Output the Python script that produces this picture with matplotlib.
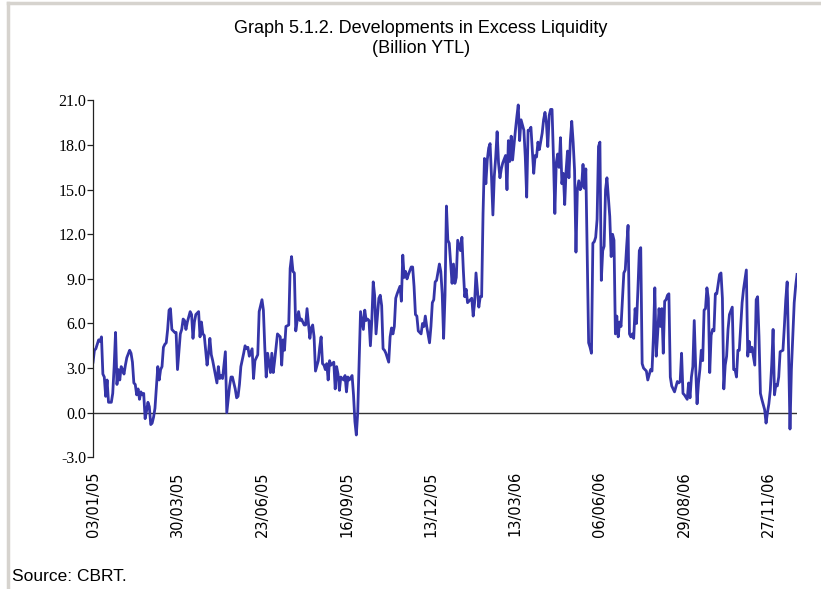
import matplotlib
matplotlib.use("Agg")
import matplotlib.pyplot as plt
from matplotlib.lines import Line2D

# trading-day number since 03/01/05 and excess liquidity (billion YTL)
obs = [
    0, 1, 2, 4, 5, 6, 7, 8, 9, 10, 11, 13, 14, 15, 16, 17, 18, 19, 20, 21,
    22, 23, 24, 26, 27, 28, 29, 30, 31, 32, 33, 34, 35, 36, 37, 38, 39, 40, 41, 42,
    43, 44, 46, 47, 48, 49, 50, 51, 52, 53, 54, 55, 56, 58, 59, 60, 62, 63, 64, 65,
    66, 67, 69, 70, 71, 72, 73, 75, 76, 77, 78, 79, 81, 82, 83, 84, 85, 86, 88, 89,
    90, 91, 92, 94, 95, 96, 97, 98, 99, 101, 102, 103, 104, 105, 107, 108, 109, 110, 111, 113,
    114, 115, 116, 117, 118, 120, 121, 122, 123, 124, 126, 127, 128, 129, 130, 131, 133, 134, 135, 136,
    137, 139, 140, 141, 142, 143, 144, 145, 146, 147, 148, 150, 151, 152, 154, 155, 156, 157, 158, 160,
    161, 162, 163, 164, 165, 166, 167, 168, 169, 171, 172, 173, 174, 175, 176, 178, 179, 180, 181, 182,
    184, 185, 186, 187, 188, 190, 191, 192, 193, 194, 195, 196, 197, 198, 199, 200, 201, 203, 204, 205,
    206, 207, 208, 210, 211, 212, 213, 214, 215, 216, 218, 219, 220, 221, 222, 223, 224, 226, 227, 228,
    229, 230, 231, 233, 234, 235, 236, 237, 239, 240, 241, 242, 243, 244, 246, 247, 248, 249, 250, 251,
    252, 253, 255, 256, 257, 258, 259, 261, 262, 263, 264, 265, 266, 268, 269, 270, 271, 272, 274, 275,
    276, 277, 278, 279, 280, 281, 282, 283, 284, 285, 286, 287, 288, 289, 290, 291, 293, 294, 295, 296,
    297, 298, 300, 301, 302, 303, 304, 306, 307, 308, 309, 310, 311, 313, 314, 315, 316, 317, 319, 320,
    321, 322, 323, 324, 325, 326, 327, 328, 329, 330, 331, 332, 333, 334, 335, 336, 337, 338, 339, 340,
    341, 342, 343, 344, 345, 346, 347, 348, 349, 350, 351, 352, 353, 354, 355, 356, 357, 358, 359, 360,
    361, 362, 363, 364, 365, 367, 368, 369, 370, 371, 372, 373, 374, 375, 377, 378, 379, 380, 381, 382,
    383, 384, 385, 386, 387, 388, 389, 390, 391, 392, 393, 394, 396, 397, 398, 399, 400, 401, 402, 403,
    404, 405, 406, 407, 408, 409, 410, 411, 412, 413, 415, 416, 417, 418, 419, 420, 422, 423, 424, 425,
    426, 427, 428, 429, 430, 431, 432, 433, 434, 435, 436, 437, 438, 439, 440, 441, 442, 443, 445, 446,
    447, 448, 449, 450, 451, 452, 454, 455, 456, 457, 458, 459, 460, 461, 462, 464, 465, 466, 467, 468,
    470, 471, 472, 473, 474, 475, 477, 478, 479, 480, 481, 482, 483, 484, 485, 486, 487, 488, 490, 491,
    492, 493, 494, 495, 496, 497, 498, 499, 500,
]
liquidity = [
    3.4, 4.2, 4.3, 4.9, 4.8, 5.1, 2.6, 2.4, 1.1, 2.2, 0.7, 0.7, 1.3, 3.1, 5.4, 1.9, 2.9, 2.2, 3.1, 2.9,
    2.6, 3.2, 3.7, 4.2, 4.0, 3.4, 2.0, 1.9, 1.2, 1.6, 0.9, 1.4, 1.2, 1.3, -0.4, 0.1, 0.7, 0.4, -0.8, -0.7,
    -0.3, 0.3, 3.1, 2.2, 2.9, 3.1, 4.4, 4.6, 4.7, 5.6, 6.9, 7.0, 5.6, 5.4, 5.4, 2.9, 5.3, 5.6, 6.3, 6.2,
    5.6, 6.1, 6.8, 6.6, 5.0, 6.1, 6.6, 6.8, 5.1, 6.1, 5.3, 5.2, 3.2, 4.0, 5.0, 3.9, 3.5, 3.0, 2.0, 3.1,
    2.3, 2.5, 2.3, 4.1, 0.0, 0.9, 1.8, 2.4, 2.4, 1.6, 1.0, 1.1, 1.9, 3.1, 4.0, 4.5, 4.3, 4.4, 3.8, 4.3,
    2.3, 3.5, 3.7, 3.9, 6.8, 7.6, 6.9, 4.4, 2.4, 4.0, 2.7, 4.0, 2.7, 3.5, 4.4, 5.3, 5.1, 3.2, 4.9, 4.2,
    5.8, 5.9, 9.7, 10.5, 9.5, 9.4, 5.5, 6.2, 6.8, 6.2, 6.3, 5.9, 5.9, 7.0, 5.0, 5.7, 5.9, 5.1, 2.8, 3.5,
    4.4, 5.1, 3.3, 3.2, 2.9, 3.3, 2.2, 3.5, 3.2, 3.4, 1.6, 3.1, 2.6, 1.5, 2.4, 2.2, 2.5, 1.4, 2.4, 2.2,
    2.5, 1.2, -0.6, -1.5, 0.0, 6.8, 6.2, 5.6, 6.9, 6.2, 6.3, 6.2, 4.5, 6.2, 8.8, 7.9, 5.3, 7.7, 7.9, 7.2,
    4.3, 4.2, 4.0, 3.4, 5.1, 5.7, 5.3, 5.8, 7.7, 8.0, 8.5, 7.5, 10.6, 9.1, 9.5, 9.0, 9.3, 9.8, 9.8, 8.5,
    6.6, 6.5, 5.5, 5.3, 6.0, 5.8, 6.5, 5.8, 4.7, 5.8, 7.4, 7.6, 8.8, 8.9, 10.0, 9.5, 8.0, 5.0, 7.9, 13.9,
    11.6, 11.4, 8.7, 10.0, 8.7, 9.1, 11.6, 10.9, 11.8, 9.6, 7.8, 8.3, 7.4, 7.6, 7.7, 6.5, 7.4, 9.4, 7.1, 7.8,
    7.8, 13.4, 17.1, 15.4, 17.0, 17.8, 18.1, 15.9, 13.3, 15.9, 17.2, 18.9, 16.8, 15.8, 16.4, 16.8, 17.3, 15.0, 18.3, 16.9,
    18.6, 17.0, 19.0, 19.9, 20.7, 18.3, 19.7, 19.0, 17.2, 14.5, 19.0, 19.0, 19.2, 16.1, 17.3, 17.2, 18.2, 17.7, 18.8, 19.7,
    20.2, 19.5, 17.9, 20.0, 20.4, 20.4, 17.2, 13.4, 16.8, 17.4, 16.5, 18.5, 15.4, 16.1, 14.0, 16.3, 17.6, 15.8, 18.3, 19.6,
    18.2, 16.3, 10.8, 15.0, 15.6, 15.0, 15.2, 16.7, 15.1, 16.4, 10.5, 4.7, 4.4, 4.0, 11.4, 11.5, 11.8, 13.0, 17.9, 18.2,
    8.9, 10.9, 11.2, 15.0, 15.8, 13.2, 10.5, 12.0, 11.6, 5.3, 6.5, 5.1, 6.1, 5.8, 9.4, 9.6, 11.2, 12.6, 5.3, 5.1,
    5.3, 5.0, 7.0, 6.0, 8.3, 10.9, 11.1, 3.3, 3.0, 2.9, 2.8, 2.2, 2.9, 2.8, 5.1, 8.4, 3.8, 5.3, 7.0, 5.8,
    7.0, 4.0, 7.5, 7.6, 7.9, 8.0, 2.4, 1.8, 1.6, 1.4, 2.1, 2.0, 2.1, 4.0, 1.3, 1.2, 0.9, 2.0, 1.0, 2.4,
    3.1, 6.2, 3.1, 0.6, 2.0, 2.9, 4.2, 3.5, 6.9, 7.0, 8.4, 7.7, 2.7, 5.2, 5.6, 5.5, 8.0, 8.0, 9.3, 9.4,
    7.7, 1.6, 3.2, 3.8, 5.6, 6.6, 7.1, 2.9, 2.9, 2.4, 4.2, 4.2, 5.8, 7.4, 8.3, 9.6, 3.8, 4.8, 4.1, 4.4,
    3.2, 7.6, 7.8, 5.1, 1.3, 0.9, 0.2, -0.7, 0.0, 0.6, 1.5, 3.2, 5.6, 1.2, 1.9, 1.8, 2.4, 4.1, 4.2, 5.8,
    7.6, 8.8, 4.2, -1.1, 2.9, 5.1, 7.4, 8.5, 9.3,
]

tick_obs = [0, 60, 120, 180, 240, 300, 360, 420, 480]
tick_labels = ["03/01/05", "30/03/05", "23/06/05", "16/09/05", "13/12/05",
               "13/03/06", "06/06/06", "29/08/06", "27/11/06"]
y_ticks = [-3, 0, 3, 6, 9, 12, 15, 18, 21]

narrow = ["Liberation Sans Narrow", "Liberation Sans", "DejaVu Sans"]

fig = plt.figure(figsize=(8.21, 5.89), dpi=100)
ax = fig.add_axes([0.1133, 0.2236, 0.8575, 0.6058])

ax.plot(obs, liquidity, color="#3535a8", linewidth=2.0, solid_joinstyle="round")
ax.axhline(0, color="#333333", linewidth=1.0, zorder=1)

ax.set_xlim(0, 500)
ax.set_ylim(-3, 21)
ax.set_yticks(y_ticks)
ax.set_yticklabels([f"{v:.1f}" for v in y_ticks], family="Liberation Serif", fontsize=11.5)
ax.set_xticks(tick_obs)
ax.set_xticklabels(tick_labels, rotation=90, family="DejaVu Sans", fontsize=10.5)

for side in ["top", "right", "bottom"]:
    ax.spines[side].set_visible(False)
ax.spines["left"].set_color("#222222")
ax.spines["left"].set_linewidth(0.9)
ax.tick_params(axis="y", direction="out", length=4, width=0.9, color="#222222", pad=1)
ax.tick_params(axis="x", length=0, pad=10)

fig.text(0.513, 0.951, "Graph 5.1.2. Developments in Excess Liquidity",
         ha="center", va="center", family=narrow, fontsize=13)
fig.text(0.513, 0.917, "(Billion YTL)", ha="center", va="center", family=narrow, fontsize=13)
fig.text(0.015, 0.022, "Source: CBRT.", ha="left", va="center", family=narrow, fontsize=12.5)

# page frame (top and left edges)
frame_col = "#d6d3ce"
fig.add_artist(Line2D([0.010, 1.0], [0.995, 0.995], transform=fig.transFigure, color=frame_col, linewidth=2.5))
fig.add_artist(Line2D([0.010, 0.010], [0.0, 0.995], transform=fig.transFigure, color=frame_col, linewidth=2.5))

fig.savefig("out.png", dpi=100)
